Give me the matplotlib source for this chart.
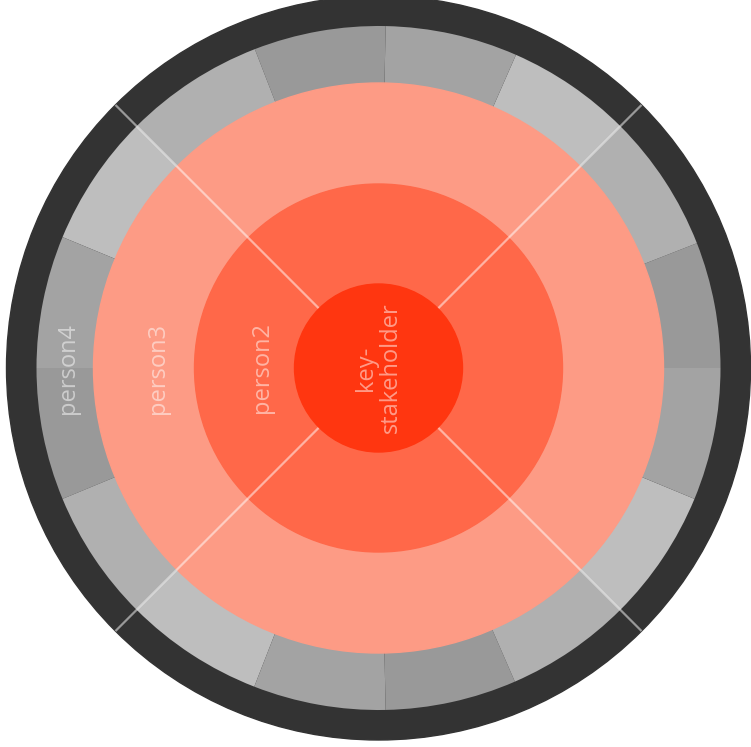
import matplotlib
matplotlib.use("Agg")
from matplotlib import pyplot as plt
from matplotlib.patches import Circle

# labels from the centre outwards
labels = ["key-\nstakeholder", "person2", "person3", "person4"]

# outer grey ring: angular span of each segment (degrees, counter-clockwise from 3 o'clock)
segment_spans = [21.4, 23.6, 21.3, 22.5, 22.4, 23.8, 22.5, 22.5,
                 22.5, 22.5, 23.7, 22.5, 22.3, 21.5, 22.5, 22.5]
segment_colors = ["#999999", "#b0b0b0", "#bebebe", "#a3a3a3"] * 4

# white divider lines
divider_angles = [45, 135, 225, 315]

ring_colors = ["#ff3610", "#ff6849", "#fd9b85"]
ring_radii = [84, 184, 285]
grey_radius = 342
outer_radius = 372

fig = plt.figure(figsize=(7.51, 7.47), dpi=100)
ax = fig.add_axes([0, 0, 1, 1])

# dark outer border
ax.add_patch(Circle((0, 0), outer_radius, color="#333333", zorder=1))

# grey segmented ring
ax.pie(segment_spans, radius=grey_radius, colors=segment_colors, startangle=0,
       counterclock=True, wedgeprops=dict(linewidth=0, zorder=2))

# coloured circles, largest first
for r, c in zip(ring_radii[::-1], ring_colors[::-1]):
    z = 6 if r == ring_radii[0] else 3
    ax.add_patch(Circle((0, 0), r, color=c, zorder=z))

# diagonal dividers
import numpy as np
for a in divider_angles:
    t = np.deg2rad(a)
    ax.plot([0, outer_radius * np.cos(t)], [0, outer_radius * np.sin(t)],
            color="white", alpha=0.5, lw=1.6, zorder=5, solid_capstyle="butt")

# labels
label_x = [0, -117, -221, -311]
for x, txt in zip(label_x, labels):
    ax.text(x, 0, txt, rotation=90, ha="center", va="center", multialignment="center",
            color="white", alpha=0.5, fontsize=17, family="Open Sans",
            linespacing=1.05, zorder=7)

ax.set_xlim(-378.5, 372.5)
ax.set_ylim(-379, 368)
ax.set_aspect("equal")
ax.axis("off")

fig.savefig("out.png", dpi=100, facecolor="white")
